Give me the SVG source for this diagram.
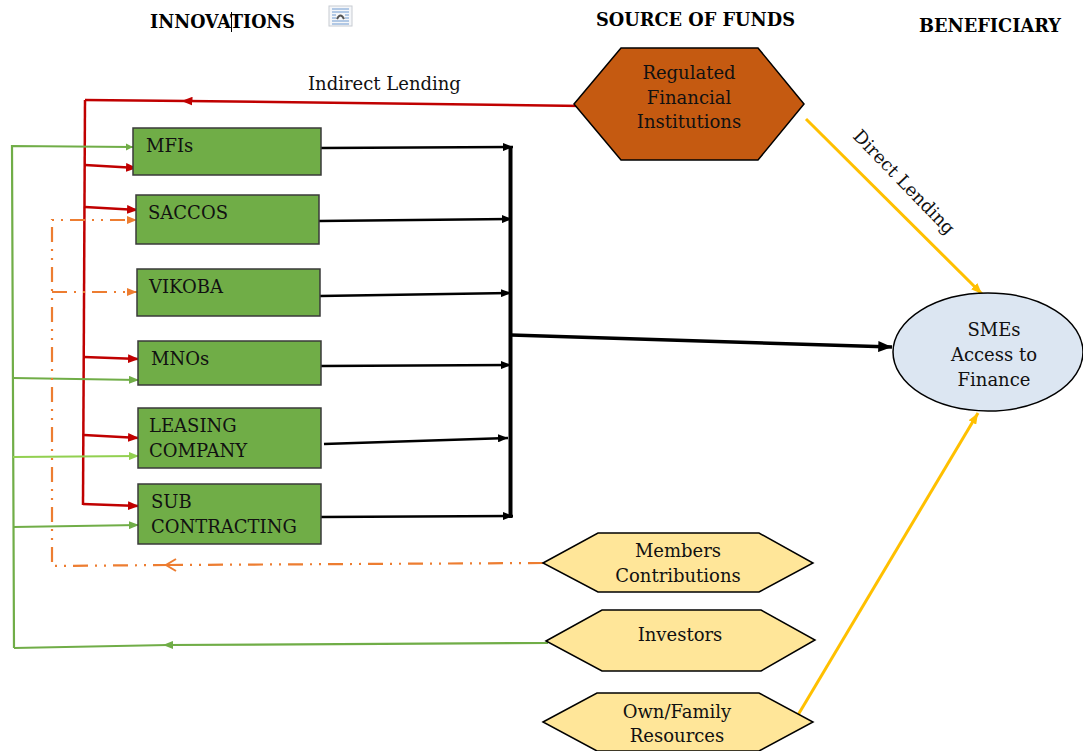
<svg xmlns="http://www.w3.org/2000/svg" width="1083" height="751" viewBox="0 0 1083 751">
<style>
text{font-family:"DejaVu Serif","Liberation Serif",serif;fill:#111}
.hdr{font-weight:bold;font-size:18px;fill:#000}
.lbl{font-size:18px}
.box{fill:#70ad47;stroke:#3a3a3a;stroke-width:1.5}
.hexo{fill:#c55a11;stroke:#000;stroke-width:1.5}
.hexy{fill:#ffe699;stroke:#000;stroke-width:1.5}
.red{fill:none;stroke:#c00000;stroke-width:2.5}
.grn{fill:none;stroke:#70ad47;stroke-width:2.2}
.lgrn{fill:none;stroke:#92d050;stroke-width:2.2}
.blk{fill:none;stroke:#000;stroke-width:2.5}
.org{fill:none;stroke:#ed7d31;stroke-width:2.2;stroke-dasharray:15 7 2 7 2 7}
.yel{fill:none;stroke:#ffc000;stroke-width:3}
</style>
<defs>
<marker id="aK" viewBox="0 0 10 8" refX="10" refY="4" markerWidth="10" markerHeight="8" orient="auto" markerUnits="userSpaceOnUse"><path d="M0,0L10,4L0,8z" fill="#000"/></marker>
<marker id="aKL" viewBox="0 0 10 8" refX="10" refY="4" markerWidth="14" markerHeight="11" orient="auto" markerUnits="userSpaceOnUse"><path d="M0,0L10,4L0,8z" fill="#000"/></marker>
<marker id="aR" viewBox="0 0 10 8" refX="10" refY="4" markerWidth="11" markerHeight="9" orient="auto" markerUnits="userSpaceOnUse"><path d="M0,0L10,4L0,8z" fill="#c00000"/></marker>
<marker id="aRm" viewBox="0 0 10 8" refX="5" refY="4" markerWidth="11" markerHeight="9" orient="auto" markerUnits="userSpaceOnUse"><path d="M0,0L10,4L0,8z" fill="#c00000"/></marker>
<marker id="aG" viewBox="0 0 10 8" refX="10" refY="4" markerWidth="10" markerHeight="8" orient="auto" markerUnits="userSpaceOnUse"><path d="M0,0L10,4L0,8z" fill="#70ad47"/></marker>
<marker id="aGm" viewBox="0 0 10 8" refX="5" refY="4" markerWidth="10" markerHeight="8" orient="auto" markerUnits="userSpaceOnUse"><path d="M0,0L10,4L0,8z" fill="#70ad47"/></marker>
<marker id="aLG" viewBox="0 0 10 8" refX="10" refY="4" markerWidth="10" markerHeight="8" orient="auto" markerUnits="userSpaceOnUse"><path d="M0,0L10,4L0,8z" fill="#92d050"/></marker>
<marker id="aO" viewBox="0 0 10 8" refX="10" refY="4" markerWidth="10" markerHeight="8" orient="auto" markerUnits="userSpaceOnUse"><path d="M0,0L10,4L0,8z" fill="#ed7d31"/></marker>
<marker id="aY" viewBox="0 0 10 8" refX="10" refY="4" markerWidth="11" markerHeight="9" orient="auto" markerUnits="userSpaceOnUse"><path d="M0,0L10,4L0,8z" fill="#ffc000"/></marker>
</defs>

<g id="headers">
<text class="hdr" x="150" y="28" textLength="145" lengthAdjust="spacingAndGlyphs">INNOVATIONS</text>
<line x1="231.5" y1="12" x2="231.5" y2="32" stroke="#000" stroke-width="1"/>
<text class="hdr" x="596" y="26" textLength="199" lengthAdjust="spacingAndGlyphs">SOURCE OF FUNDS</text>
<text class="hdr" x="919" y="32" textLength="142" lengthAdjust="spacingAndGlyphs">BENEFICIARY</text>
</g>
<g id="icon">
<rect x="329" y="6" width="23" height="20" fill="#f4f6f9" stroke="#c8ccd2" stroke-width="1"/>
<g stroke="#6f9ad0" stroke-width="1">
<line x1="332" y1="9" x2="349" y2="9"/><line x1="332" y1="12" x2="349" y2="12"/>
<line x1="332" y1="15" x2="336" y2="15"/><line x1="345" y1="15" x2="349" y2="15"/>
<line x1="332" y1="18" x2="336" y2="18"/><line x1="345" y1="18" x2="349" y2="18"/>
<line x1="332" y1="21" x2="349" y2="21"/><line x1="332" y1="24" x2="349" y2="24"/>
</g>
<path d="M337,19 Q340.5,12 344,19" fill="none" stroke="#555" stroke-width="2"/>
</g>

<g id="connectors">
<!-- red indirect lending -->
<polyline class="red" points="583,106 187,101 85,100" marker-mid="url(#aRm)"/>
<path class="red" d="M85,100 L83,505"/>
<path class="red" d="M85,165 L137,168" marker-end="url(#aR)"/>
<path class="red" d="M85,207 L138,210" marker-end="url(#aR)"/>
<path class="red" d="M84,357 L139,359" marker-end="url(#aR)"/>
<path class="red" d="M84,435 L139,438" marker-end="url(#aR)"/>
<path class="red" d="M83,504 L139,506" stroke-width="1.8" marker-end="url(#aR)"/>
<!-- green investors -->
<polyline class="grn" points="548,643 168,645 14,648" marker-mid="url(#aGm)"/>
<path class="grn" d="M14,648 L12,146 L133,147"/>
<path d="M126,143.5 L133,147 L126,150.5z" fill="#70ad47"/>
<path class="grn" d="M13,378 L139,380" marker-end="url(#aG)"/>
<path class="lgrn" d="M13,457 L139,456" marker-end="url(#aLG)"/>
<path class="grn" d="M13,527 L139,525" marker-end="url(#aG)"/>
<!-- orange members contributions -->
<path class="org" d="M543,563 L168,565"/>
<path class="org" d="M168,565 L52,566 L52,220 L137,220" marker-end="url(#aO)"/>
<path class="org" d="M52,292 L137,292" marker-end="url(#aO)"/>
<path d="M176,559 L166,565 L176,571" fill="none" stroke="#ed7d31" stroke-width="2"/>
<!-- box to bus -->
<path class="blk" d="M321,148 L513,147" marker-end="url(#aK)"/>
<path class="blk" d="M319,221 L512,219" marker-end="url(#aK)"/>
<path class="blk" d="M320,296 L511,293" marker-end="url(#aK)"/>
<path class="blk" d="M321,366 L511,365" marker-end="url(#aK)"/>
<path class="blk" d="M324,444 L508,438" marker-end="url(#aK)"/>
<path class="blk" d="M321,517 L513,516" marker-end="url(#aK)"/>
<path d="M510.5,146 L510.5,518" stroke="#000" stroke-width="4"/>
<path d="M511,335 L892,347" stroke="#000" stroke-width="3.5" marker-end="url(#aKL)"/>
<!-- yellow -->
<path class="yel" d="M806,119 L982,294" marker-end="url(#aY)"/>
<path class="yel" d="M798,715 L978,413" marker-end="url(#aY)"/>
</g>

<g id="node-rfi">
<polygon class="hexo" points="574,104 621,48 758,48 804,104 758,160 621,160"/>
<text class="lbl" x="689" y="79" text-anchor="middle">Regulated</text>
<text class="lbl" x="689" y="104" text-anchor="middle">Financial</text>
<text class="lbl" x="689" y="128" text-anchor="middle">Institutions</text>
</g>
<g id="label-indirect"><text class="lbl" x="308" y="90">Indirect Lending</text></g>
<g id="label-direct"><text class="lbl" transform="translate(852,137) rotate(46)">Direct Lending</text></g>

<g id="node-mfis"><rect class="box" x="133" y="128" width="188" height="47"/><text class="lbl" x="146" y="152">MFIs</text></g>
<g id="node-saccos"><rect class="box" x="136" y="195" width="183" height="49"/><text class="lbl" x="148" y="219">SACCOS</text></g>
<g id="node-vikoba"><rect class="box" x="137" y="269" width="183" height="47"/><text class="lbl" x="149" y="293">VIKOBA</text></g>
<g id="node-mnos"><rect class="box" x="138" y="341" width="183" height="44"/><text class="lbl" x="151" y="365">MNOs</text></g>
<g id="node-leasing"><rect class="box" x="138" y="408" width="183" height="60"/><text class="lbl" x="149" y="432">LEASING</text><text class="lbl" x="149" y="457">COMPANY</text></g>
<g id="node-sub"><rect class="box" x="138" y="484" width="183" height="60"/><text class="lbl" x="151" y="508">SUB</text><text class="lbl" x="151" y="533">CONTRACTING</text></g>

<g id="node-members">
<polygon class="hexy" points="543,563 598,533 759,533 813,563 759,592 598,592"/>
<text class="lbl" x="678" y="557" text-anchor="middle">Members</text>
<text class="lbl" x="678" y="582" text-anchor="middle">Contributions</text>
</g>
<g id="node-investors">
<polygon class="hexy" points="546,641 602,610 761,610 815,640 761,671 602,671"/>
<text class="lbl" x="680" y="641" text-anchor="middle">Investors</text>
</g>
<g id="node-own">
<polygon class="hexy" points="543,722 597,693 759,693 813,722 759,751 597,751"/>
<text class="lbl" x="677" y="718" text-anchor="middle">Own/Family</text>
<text class="lbl" x="677" y="742" text-anchor="middle">Resources</text>
</g>

<g id="node-smes">
<ellipse cx="988" cy="352" rx="95" ry="59" fill="#dce6f2" stroke="#000" stroke-width="1.5"/>
<text class="lbl" x="994" y="336" text-anchor="middle">SMEs</text>
<text class="lbl" x="994" y="361" text-anchor="middle">Access to</text>
<text class="lbl" x="994" y="386" text-anchor="middle">Finance</text>
</g>
</svg>
